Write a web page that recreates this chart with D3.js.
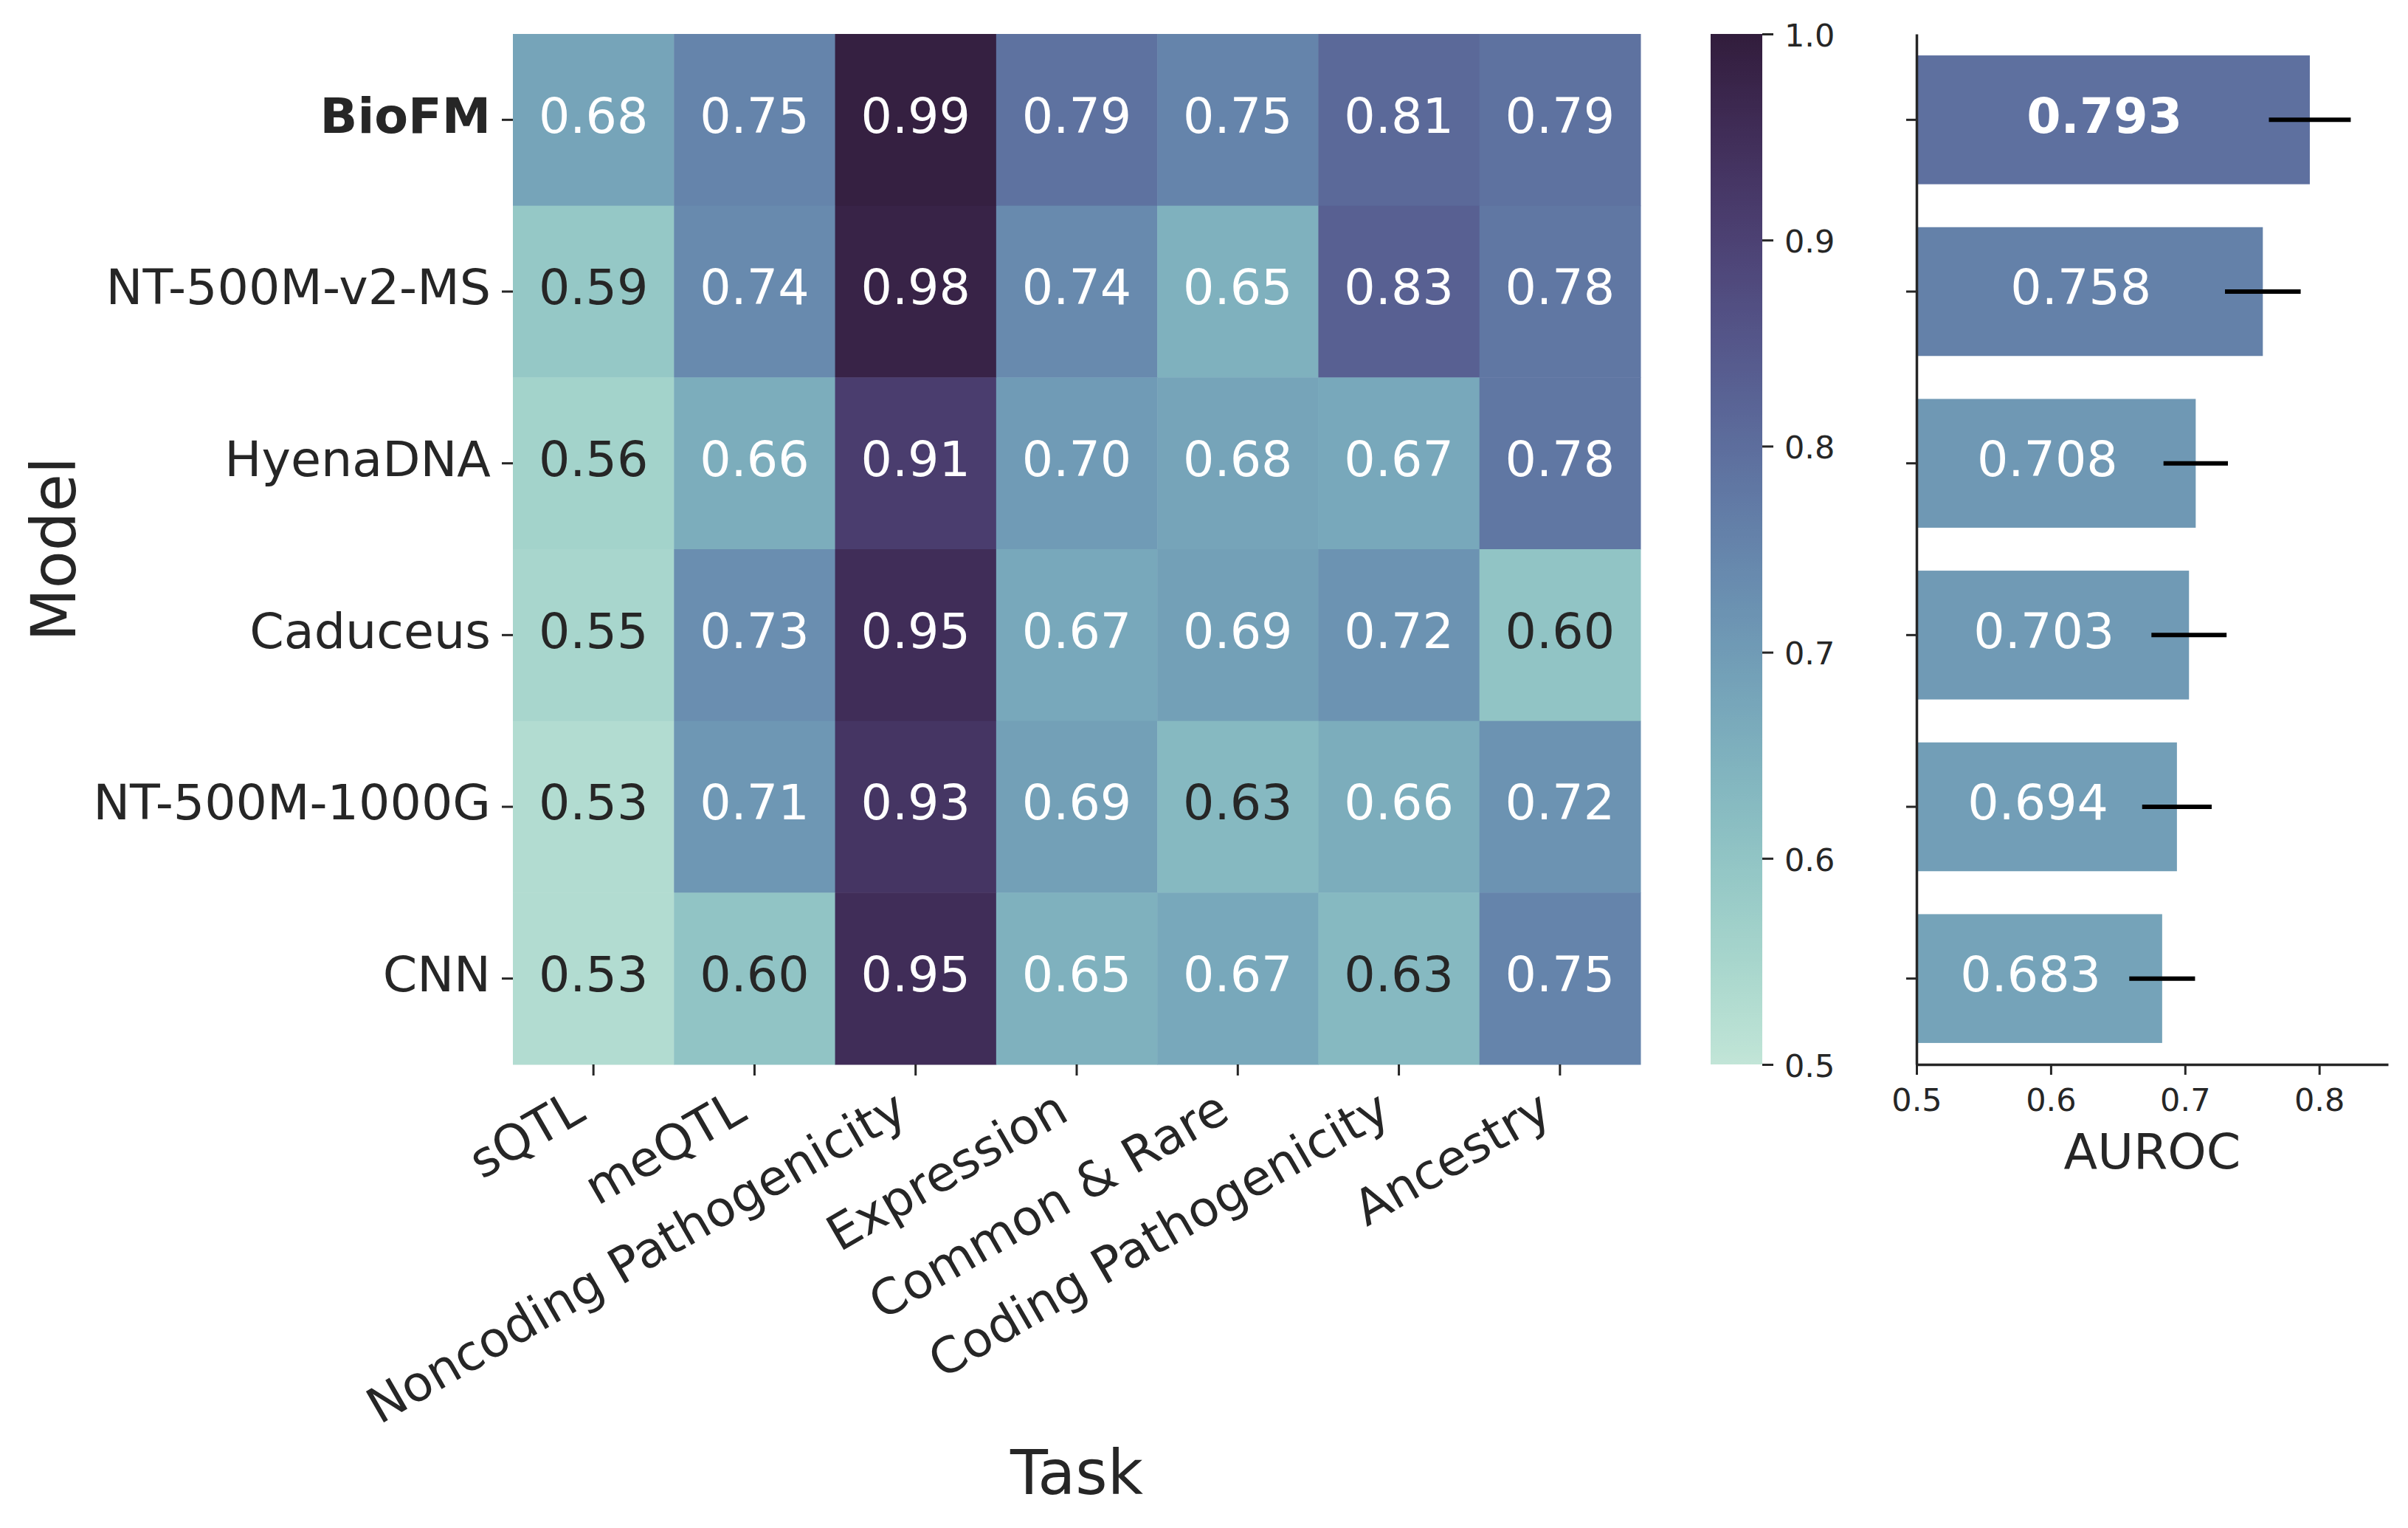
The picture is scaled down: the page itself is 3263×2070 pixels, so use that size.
<!DOCTYPE html>
<html>
<head>
<meta charset="utf-8">
<script src="https://cdn.jsdelivr.net/npm/d3@7"></script>
<style>
  html, body { margin: 0; padding: 0; background: #ffffff; }
  svg { display: block; font-family: "DejaVu Sans", sans-serif; }
</style>
</head>
<body>
<svg id="chart" width="3263" height="2070"></svg>
<script>
// ---------------- DATA ----------------
const models = ["BioFM", "NT-500M-v2-MS", "HyenaDNA", "Caduceus", "NT-500M-1000G", "CNN"];
const tasks = ["sQTL", "meQTL", "Noncoding Pathogenicity", "Expression", "Common & Rare", "Coding Pathogenicity", "Ancestry"];
const scoresBioFM        = [0.68, 0.75, 0.99, 0.79, 0.75, 0.81, 0.79];
const scoresNT500v2MS    = [0.59, 0.74, 0.98, 0.74, 0.65, 0.83, 0.78];
const scoresHyenaDNA     = [0.56, 0.66, 0.91, 0.70, 0.68, 0.67, 0.78];
const scoresCaduceus     = [0.55, 0.73, 0.95, 0.67, 0.69, 0.72, 0.60];
const scoresNT5001000G   = [0.53, 0.71, 0.93, 0.69, 0.63, 0.66, 0.72];
const scoresCNN          = [0.53, 0.60, 0.95, 0.65, 0.67, 0.63, 0.75];
const meanAUROC = [0.793, 0.758, 0.708, 0.703, 0.694, 0.683];
const errAUROC  = [0.0305, 0.0282, 0.024, 0.028, 0.0259, 0.0245];
const colorbarTicks = [0.5, 0.6, 0.7, 0.8, 0.9, 1.0];
const barTicks = [0.5, 0.6, 0.7, 0.8];

const scoreRows = [scoresBioFM, scoresNT500v2MS, scoresHyenaDNA, scoresCaduceus, scoresNT5001000G, scoresCNN];
const cells = [];
models.forEach((m, i) => tasks.forEach((t, j) => cells.push({model: m, task: t, value: scoreRows[i][j]})));
const bars = models.map((m, i) => ({model: m, value: meanAUROC[i], err: errAUROC[i]}));

// ---------------- COLORMAP (seaborn cubehelix start=.5, rot=-.5) ----------------
function clamp01(v) { return Math.max(0, Math.min(1, v)); }
function cubehelix(t) {
  const light = 0.85, dark = 0.15, start = 0.5, rot = -0.5, gamma = 1, hue = 0.8;
  const i = Math.min(255, Math.max(0, Math.floor(t * 256)));
  const x = light + (dark - light) * i / 255;
  const xg = Math.pow(x, gamma);
  const a = hue * xg * (1 - xg) / 2;
  const phi = 2 * Math.PI * (start / 3 + rot * x);
  const c = Math.cos(phi), s = Math.sin(phi);
  const r = xg + a * (-0.14861 * c + 1.78277 * s);
  const g = xg + a * (-0.29227 * c - 0.90649 * s);
  const b = xg + a * (1.97294 * c);
  return d3.rgb(clamp01(r) * 255, clamp01(g) * 255, clamp01(b) * 255);
}
const color = d3.scaleSequential(cubehelix).domain([0.5, 1.0]).clamp(true);
function luminance(c) {
  const f = v => { v = v / 255; return v <= 0.03928 ? v / 12.92 : Math.pow((v + 0.055) / 1.055, 2.4); };
  const rgb = d3.rgb(c);
  return 0.2126 * f(rgb.r) + 0.7152 * f(rgb.g) + 0.0722 * f(rgb.b);
}
const textDark = "#262626";

// ---------------- LAYOUT ----------------
const svg = d3.select("#chart");
const heat = {left: 695, right: 2223, top: 46, bottom: 1442};
const cbar = {left: 2318, right: 2388};
const barAx = {left: 2597, right: 3236};
const tickFont = 66.7, smallFont = 43, labelFont = 83.3;

const x = d3.scaleBand().domain(tasks).range([heat.left, heat.right]);
const y = d3.scaleBand().domain(models).range([heat.top, heat.bottom]);

// ---------------- HEATMAP ----------------
const gHeat = svg.append("g");
gHeat.selectAll("rect").data(cells).join("rect")
  .attr("x", d => x(d.task)).attr("y", d => y(d.model))
  .attr("width", x.bandwidth() + 0.5).attr("height", y.bandwidth() + 0.5)
  .attr("fill", d => color(d.value));
gHeat.selectAll("text").data(cells).join("text")
  .attr("x", d => x(d.task) + x.bandwidth() / 2)
  .attr("y", d => y(d.model) + y.bandwidth() / 2 + 0.262 * tickFont)
  .attr("text-anchor", "middle")
  .attr("font-size", tickFont)
  .attr("fill", d => luminance(color(d.value)) > 0.408 ? textDark : "#ffffff")
  .text(d => d3.format(".2f")(d.value));

// y axis (models)
const yAxisG = svg.append("g").attr("transform", `translate(${heat.left},0)`)
  .call(d3.axisLeft(y).tickSize(15).tickPadding(15));
yAxisG.select(".domain").remove();
yAxisG.selectAll(".tick line").attr("stroke", textDark).attr("stroke-width", 3);
yAxisG.selectAll(".tick text")
  .attr("font-size", tickFont).attr("font-family", "DejaVu Sans").attr("fill", textDark)
  .attr("dy", "0.262em")
  .attr("font-weight", d => d === "BioFM" ? "bold" : "normal");

// x axis (tasks)
const xAxisG = svg.append("g").attr("transform", `translate(0,${heat.bottom})`)
  .call(d3.axisBottom(x).tickSize(15).tickPadding(0));
xAxisG.select(".domain").remove();
xAxisG.selectAll(".tick line").attr("stroke", textDark).attr("stroke-width", 3);
xAxisG.selectAll(".tick text")
  .attr("font-size", tickFont).attr("font-family", "DejaVu Sans").attr("fill", textDark)
  .attr("y", 0).attr("dy", 0)
  .attr("text-anchor", "end")
  .attr("transform", `translate(${-0.5 * 0.236 * tickFont},${15 + 14.6 + 0.866 * 0.76 * tickFont}) rotate(-30)`);

// axis labels
svg.append("text").attr("x", (heat.left + heat.right) / 2).attr("y", 2024)
  .attr("text-anchor", "middle").attr("font-size", labelFont).attr("fill", textDark).text("Task");
svg.append("text").attr("transform", `translate(102,${(heat.top + heat.bottom) / 2}) rotate(-90)`)
  .attr("text-anchor", "middle").attr("font-size", labelFont).attr("fill", textDark).text("Model");

// ---------------- COLORBAR ----------------
const cScale = d3.scaleLinear().domain([0.5, 1.0]).range([heat.bottom, heat.top]);
const defs = svg.append("defs");
const grad = defs.append("linearGradient").attr("id", "cbgrad")
  .attr("x1", 0).attr("y1", 1).attr("x2", 0).attr("y2", 0);
d3.range(0, 256).forEach(i => {
  grad.append("stop").attr("offset", i / 255).attr("stop-color", color(0.5 + 0.5 * (i + 0.5) / 256));
});
svg.append("rect").attr("x", cbar.left).attr("y", heat.top)
  .attr("width", cbar.right - cbar.left).attr("height", heat.bottom - heat.top)
  .attr("fill", "url(#cbgrad)");
const cAxisG = svg.append("g").attr("transform", `translate(${cbar.right},0)`)
  .call(d3.axisRight(cScale).tickValues(colorbarTicks).tickFormat(d3.format(".1f")).tickSize(15).tickPadding(15));
cAxisG.select(".domain").remove();
cAxisG.selectAll(".tick line").attr("stroke", textDark).attr("stroke-width", 3);
cAxisG.selectAll(".tick text").attr("font-size", smallFont).attr("font-family", "DejaVu Sans")
  .attr("fill", textDark).attr("dy", "0.38em");

// ---------------- BAR CHART ----------------
const xb = d3.scaleLinear().domain([0.5, 0.8513]).range([barAx.left, barAx.right]);
const yb = d3.scaleBand().domain(models).range([heat.top, heat.bottom]).paddingInner(0.25).paddingOuter(0.125);
const gBar = svg.append("g");
gBar.selectAll("rect").data(bars).join("rect")
  .attr("x", xb(0.5)).attr("y", d => yb(d.model))
  .attr("width", d => xb(d.value) - xb(0.5)).attr("height", yb.bandwidth())
  .attr("fill", d => color(d.value));
gBar.selectAll("line.err").data(bars).join("line").attr("class", "err")
  .attr("x1", d => xb(d.value - d.err)).attr("x2", d => xb(d.value + d.err))
  .attr("y1", d => yb(d.model) + yb.bandwidth() / 2).attr("y2", d => yb(d.model) + yb.bandwidth() / 2)
  .attr("stroke", "#000000").attr("stroke-width", 6);
gBar.selectAll("text").data(bars).join("text")
  .attr("x", d => xb(0.2435 + 0.5 * d.value))
  .attr("y", d => yb(d.model) + yb.bandwidth() / 2 + 0.262 * tickFont)
  .attr("text-anchor", "middle").attr("font-size", tickFont).attr("fill", "#ffffff")
  .attr("font-weight", d => d.model === "BioFM" ? "bold" : "normal")
  .text(d => d3.format(".3f")(d.value));

const bxAxis = svg.append("g").attr("transform", `translate(0,${heat.bottom})`)
  .call(d3.axisBottom(xb).tickValues(barTicks).tickFormat(d3.format(".1f")).tickSize(14).tickSizeOuter(0).tickPadding(18));
bxAxis.select(".domain").attr("stroke", textDark).attr("stroke-width", 3.5);
bxAxis.selectAll(".tick line").attr("stroke", textDark).attr("stroke-width", 3);
bxAxis.selectAll(".tick text").attr("font-size", smallFont).attr("font-family", "DejaVu Sans").attr("fill", textDark);

const byAxis = svg.append("g").attr("transform", `translate(${barAx.left},0)`)
  .call(d3.axisLeft(yb).tickFormat("").tickSize(14).tickSizeOuter(0));
byAxis.select(".domain").attr("stroke", textDark).attr("stroke-width", 3.5);
byAxis.selectAll(".tick line").attr("stroke", textDark).attr("stroke-width", 3);

svg.append("text").attr("x", (barAx.left + barAx.right) / 2).attr("y", 1583)
  .attr("text-anchor", "middle").attr("font-size", tickFont).attr("fill", textDark).text("AUROC");
</script>
</body>
</html>
